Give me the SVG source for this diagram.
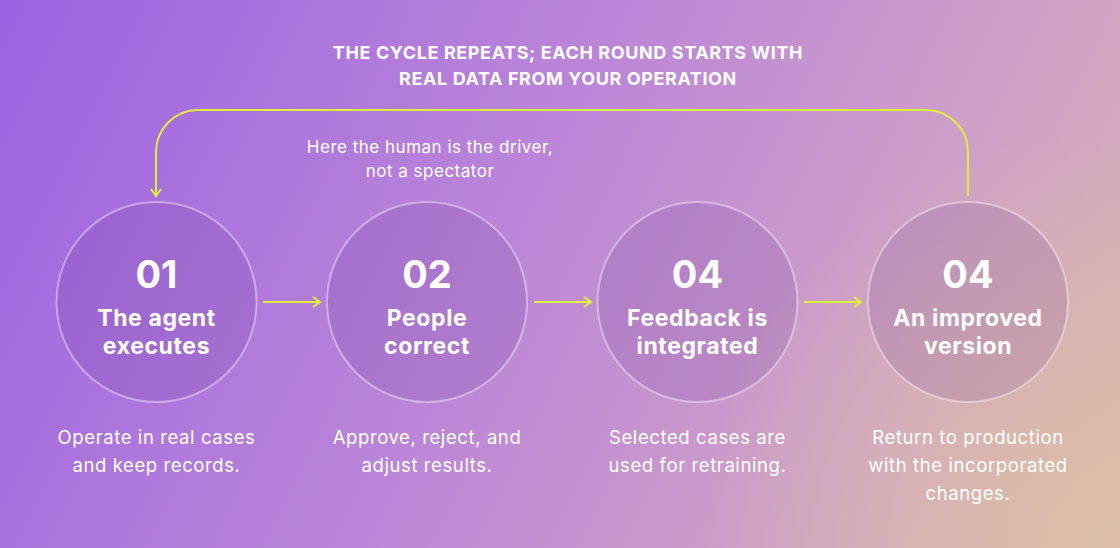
<svg xmlns="http://www.w3.org/2000/svg" width="1120" height="548" viewBox="0 0 1120 548">
<defs>
<linearGradient id="bg" x1="0" y1="0" x2="1120" y2="548" gradientUnits="userSpaceOnUse">
<stop offset="0" stop-color="#9c62e2"/>
<stop offset="0.45" stop-color="#bb86d8"/>
<stop offset="0.8" stop-color="#d2a4c4"/>
<stop offset="1" stop-color="#d8b4b0"/>
</linearGradient>
<radialGradient id="warm" cx="1120" cy="548" r="420" gradientUnits="userSpaceOnUse">
<stop offset="0" stop-color="#dcc0a4" stop-opacity="0.9"/>
<stop offset="1" stop-color="#dcc0a4" stop-opacity="0"/>
</radialGradient>
<marker id="ah" viewBox="0 0 12 12" refX="10" refY="6" markerWidth="12" markerHeight="12" markerUnits="userSpaceOnUse" orient="auto">
<path d="M3,1 L10,6 L3,11" fill="none" stroke="#def03a" stroke-width="2"/>
</marker>
<style>
.c{fill:#5a2a8a;fill-opacity:0.14;stroke:#ffffff;stroke-opacity:0.4;stroke-width:2}
.num{font-family:Inter,"Liberation Sans",sans-serif;font-weight:700;font-size:38px;fill:#fff;text-anchor:middle}
.ttl{font-family:Inter,"Liberation Sans",sans-serif;font-weight:700;font-size:23px;letter-spacing:0.6px;fill:#fff;text-anchor:middle}
.dsc{font-family:Inter,"Liberation Sans",sans-serif;font-weight:400;font-size:18.5px;letter-spacing:0.6px;fill:#fff;text-anchor:middle}
.hd{font-family:Inter,"Liberation Sans",sans-serif;font-weight:700;font-size:18px;letter-spacing:0.6px;fill:#fff;text-anchor:middle}
.note{font-family:Inter,"Liberation Sans",sans-serif;font-weight:400;font-size:17px;letter-spacing:0.5px;fill:#fff;text-anchor:middle}
.ln{fill:none;stroke:#def03a;stroke-width:2}
</style>
</defs>
<rect width="1120" height="548" fill="url(#bg)"/>
<rect width="1120" height="548" fill="url(#warm)"/>

<g id="heading">
<text class="hd" x="568" y="59">THE CYCLE REPEATS; EACH ROUND STARTS WITH</text>
<text class="hd" x="568" y="85">REAL DATA FROM YOUR OPERATION</text>
</g>
<g id="note">
<text class="note" x="430" y="153">Here the human is the driver,</text>
<text class="note" x="430" y="177">not a spectator</text>
</g>

<g id="connectors">
<path class="ln" d="M968,196 V152 A42,42 0 0 0 926,110 H198 A42,42 0 0 0 156,152 V196" marker-end="url(#ah)"/>
<line class="ln" x1="263" y1="302" x2="320" y2="302" marker-end="url(#ah)"/>
<line class="ln" x1="534" y1="302" x2="591" y2="302" marker-end="url(#ah)"/>
<line class="ln" x1="804" y1="302" x2="861" y2="302" marker-end="url(#ah)"/>
</g>

<g id="step1">
<circle class="c" cx="156.5" cy="302" r="100"/>
<text class="num" x="156.5" y="288">01</text>
<text class="ttl" x="156.5" y="326">The agent</text>
<text class="ttl" x="156.5" y="354">executes</text>
<text class="dsc" x="156.5" y="444">Operate in real cases</text>
<text class="dsc" x="156.5" y="472">and keep records.</text>
</g>
<g id="step2">
<circle class="c" cx="427" cy="302" r="100"/>
<text class="num" x="427" y="288">02</text>
<text class="ttl" x="427" y="326">People</text>
<text class="ttl" x="427" y="354">correct</text>
<text class="dsc" x="427" y="444">Approve, reject, and</text>
<text class="dsc" x="427" y="472">adjust results.</text>
</g>
<g id="step3">
<circle class="c" cx="697.5" cy="302" r="100"/>
<text class="num" x="697.5" y="288">04</text>
<text class="ttl" x="697.5" y="326">Feedback is</text>
<text class="ttl" x="697.5" y="354">integrated</text>
<text class="dsc" x="697.5" y="444">Selected cases are</text>
<text class="dsc" x="697.5" y="472">used for retraining.</text>
</g>
<g id="step4">
<circle class="c" cx="968" cy="302" r="100"/>
<text class="num" x="968" y="288">04</text>
<text class="ttl" x="968" y="326">An improved</text>
<text class="ttl" x="968" y="354">version</text>
<text class="dsc" x="968" y="444">Return to production</text>
<text class="dsc" x="968" y="472">with the incorporated</text>
<text class="dsc" x="968" y="500">changes.</text>
</g>
</svg>
